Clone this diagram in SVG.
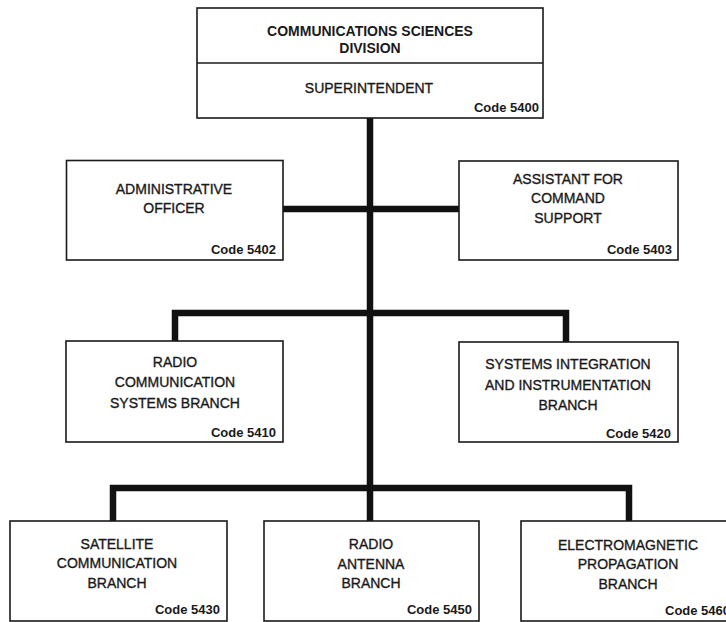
<svg xmlns="http://www.w3.org/2000/svg" width="726" height="622" viewBox="0 0 726 622">
<style>
.box{fill:#fff;stroke:#1a1a1a;stroke-width:1.6}
.con{stroke:#111;stroke-width:6.5;fill:none;stroke-linecap:butt;stroke-linejoin:miter}
text{font-family:"Liberation Sans",Arial,sans-serif;fill:#1a1a1a}
.t{font-size:14px;text-anchor:middle;stroke:#1a1a1a;stroke-width:0.35}
.h{font-size:14px;font-weight:bold;text-anchor:middle}
.c{font-size:13px;font-weight:bold;text-anchor:end}
</style>
<rect width="726" height="622" fill="#fff"/>
<g id="connectors">
<path class="con" d="M370,118 V521"/>
<path class="con" d="M283,209 H459"/>
<path class="con" d="M175,341 V313 H566 V342"/>
<path class="con" d="M113,521 V488 H629 V521"/>
</g>
<g id="division">
<rect class="box" x="197" y="8" width="346" height="110"/>
<line x1="197" y1="63" x2="543" y2="63" stroke="#1a1a1a" stroke-width="1.6"/>
<text class="h" x="370" y="36">COMMUNICATIONS SCIENCES</text>
<text class="h" x="370" y="53">DIVISION</text>
<text class="t" x="369" y="93">SUPERINTENDENT</text>
<text class="c" x="539" y="112">Code 5400</text>
</g>
<g id="admin">
<rect class="box" x="66.5" y="160.5" width="216.5" height="99.5"/>
<text class="t" x="174" y="194">ADMINISTRATIVE</text>
<text class="t" x="174" y="213">OFFICER</text>
<text class="c" x="276" y="254">Code 5402</text>
</g>
<g id="assistant">
<rect class="box" x="459" y="161" width="219" height="99"/>
<text class="t" x="568" y="184">ASSISTANT FOR</text>
<text class="t" x="568" y="203">COMMAND</text>
<text class="t" x="568" y="223">SUPPORT</text>
<text class="c" x="672" y="254">Code 5403</text>
</g>
<g id="radio-comm">
<rect class="box" x="66" y="341" width="217" height="101"/>
<text class="t" x="175" y="367">RADIO</text>
<text class="t" x="175" y="387">COMMUNICATION</text>
<text class="t" x="175" y="408">SYSTEMS BRANCH</text>
<text class="c" x="276" y="437">Code 5410</text>
</g>
<g id="systems-integration">
<rect class="box" x="459" y="342" width="219" height="100"/>
<text class="t" x="568" y="369">SYSTEMS INTEGRATION</text>
<text class="t" x="568" y="390">AND INSTRUMENTATION</text>
<text class="t" x="568" y="410">BRANCH</text>
<text class="c" x="671" y="438">Code 5420</text>
</g>
<g id="satellite">
<rect class="box" x="10" y="521" width="217" height="100"/>
<text class="t" x="117" y="549">SATELLITE</text>
<text class="t" x="117" y="568">COMMUNICATION</text>
<text class="t" x="117" y="588">BRANCH</text>
<text class="c" x="220" y="614">Code 5430</text>
</g>
<g id="radio-antenna">
<rect class="box" x="264" y="521" width="215" height="100"/>
<text class="t" x="371" y="549">RADIO</text>
<text class="t" x="371" y="569">ANTENNA</text>
<text class="t" x="371" y="588">BRANCH</text>
<text class="c" x="472" y="614">Code 5450</text>
</g>
<g id="electromagnetic">
<rect class="box" x="521" y="521" width="216" height="100"/>
<text class="t" x="628" y="550">ELECTROMAGNETIC</text>
<text class="t" x="628" y="569">PROPAGATION</text>
<text class="t" x="628" y="589">BRANCH</text>
<text class="c" x="665" y="615" style="text-anchor:start">Code 5460</text>
</g>
</svg>
